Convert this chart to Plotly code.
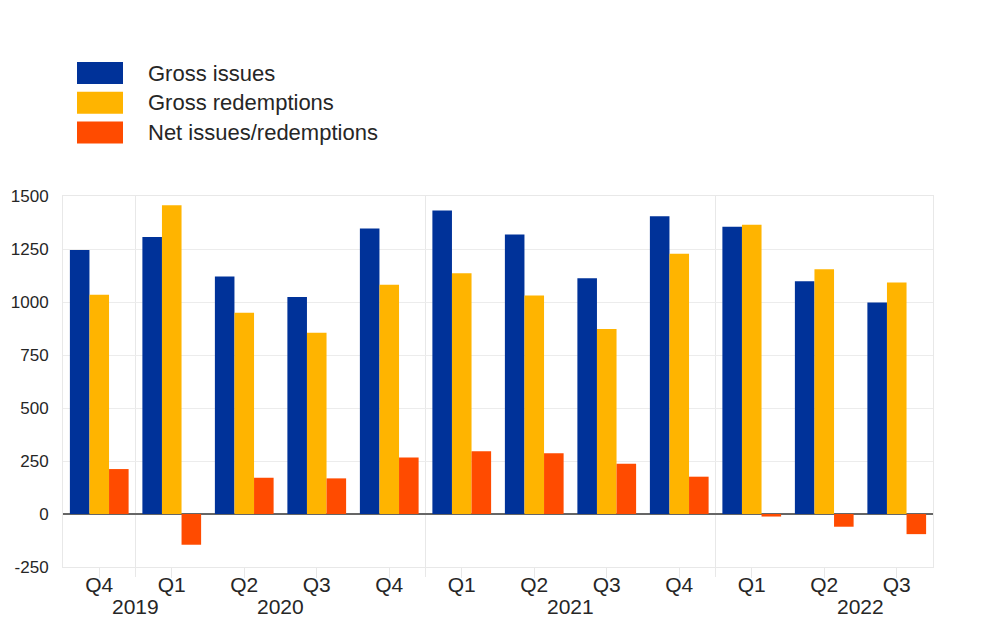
import plotly.graph_objects as go

# ---- data ----
quarters = ["Q4", "Q1", "Q2", "Q3", "Q4", "Q1", "Q2", "Q3", "Q4", "Q1", "Q2", "Q3"]
periods = ["2019 Q4", "2020 Q1", "2020 Q2", "2020 Q3", "2020 Q4", "2021 Q1",
           "2021 Q2", "2021 Q3", "2021 Q4", "2022 Q1", "2022 Q2", "2022 Q3"]
gross_issues = [1245, 1307, 1120, 1023, 1347, 1432, 1318, 1112, 1405, 1355, 1098, 998]
gross_redemptions = [1034, 1456, 949, 855, 1081, 1136, 1031, 873, 1228, 1364, 1155, 1092]
net_issues = [212, -145, 171, 168, 266, 296, 286, 237, 176, -12, -60, -95]
year_labels = ["2019", "2020", "2021", "2022"]
year_pos = [0.5, 2.5, 6.5, 10.5]
year_breaks = [0.5, 4.5, 8.5]
y_ticks = [-250, 0, 250, 500, 750, 1000, 1250, 1500]
y_tick_text = ["-250", "0", "250", "500", "750", "1000", "1250", "1500"]

series_names = ["Gross issues", "Gross redemptions", "Net issues/redemptions"]
colors = ["#003299", "#FFB400", "#FF4B00"]

W, H = 987, 617
ML, MR, MT, MB = 63, 54, 196, 50
PW, PH = W - ML - MR, H - MT - MB
FONT = "Liberation Sans, Arial, Helvetica, sans-serif"
TXT = "#262626"


def px(x):
    return (x - ML) / PW


def py(y):
    return (H - MB - y) / PH


fig = go.Figure()
for name, vals, col in zip(series_names, [gross_issues, gross_redemptions, net_issues], colors):
    fig.add_trace(go.Bar(x=periods, y=vals, name=name, marker_color=col,
                         marker_line_width=0, showlegend=False))

shapes = []
for b in year_breaks:
    shapes.append(dict(type="line", xref="x", yref="paper", x0=b, x1=b,
                       y0=-10 / PH, y1=1, line=dict(color="#e8e8e8", width=1), layer="below"))

annotations = []
for lab, pos in zip(year_labels, year_pos):
    annotations.append(dict(text=lab, x=pos, xref="x", y=py(606), yref="paper",
                            showarrow=False, xanchor="center", yanchor="middle",
                            font=dict(size=21, color=TXT, family=FONT)))

# custom legend with large swatches
for i, (name, col) in enumerate(zip(series_names, colors)):
    cy = 73 + i * 29.7
    shapes.append(dict(type="rect", xref="paper", yref="paper",
                       x0=px(77), x1=px(123), y0=py(cy + 11), y1=py(cy - 11),
                       fillcolor=col, line=dict(width=0)))
    annotations.append(dict(text=name, x=px(146), y=py(cy), xref="paper", yref="paper",
                            showarrow=False, xanchor="left", yanchor="middle",
                            font=dict(size=22, color=TXT, family=FONT)))

fig.update_layout(
    width=W, height=H, autosize=False,
    margin=dict(l=ML, r=MR, t=MT, b=MB),
    paper_bgcolor="white", plot_bgcolor="white",
    barmode="group", bargap=0.19, bargroupgap=0,
    font=dict(family=FONT, color=TXT),
    shapes=shapes, annotations=annotations,
    xaxis=dict(type="category", tickmode="array", tickvals=periods, ticktext=quarters,
               tickfont=dict(size=21, color=TXT), showgrid=False,
               ticks="outside", ticklen=10, tickcolor="#e8e8e8",
               showline=True, mirror=True, linecolor="#e8e8e8", linewidth=1,
               ticklabelstandoff=-11,
               range=[-0.5, 11.5]),
    yaxis=dict(range=[-250, 1500], tickmode="array", tickvals=y_ticks, ticktext=y_tick_text,
               tickfont=dict(size=17, color=TXT),
               showgrid=True, gridcolor="#ececec", gridwidth=1,
               zeroline=True, zerolinecolor="#666666", zerolinewidth=1.5,
               showline=True, mirror=True, linecolor="#e8e8e8", linewidth=1,
               ticks="", ticklabelstandoff=10),
    yaxis2=dict(range=[-250, 1500], tickmode="array", tickvals=y_ticks, ticktext=y_tick_text,
                tickfont=dict(size=17, color=TXT),
                overlaying="y", side="right", showgrid=False, zeroline=False,
                showline=False, ticks="", ticklabelstandoff=10),
)

fig.write_html("out.html", config={"displayModeBar": False},
               post_script="document.body.style.margin='0';")
